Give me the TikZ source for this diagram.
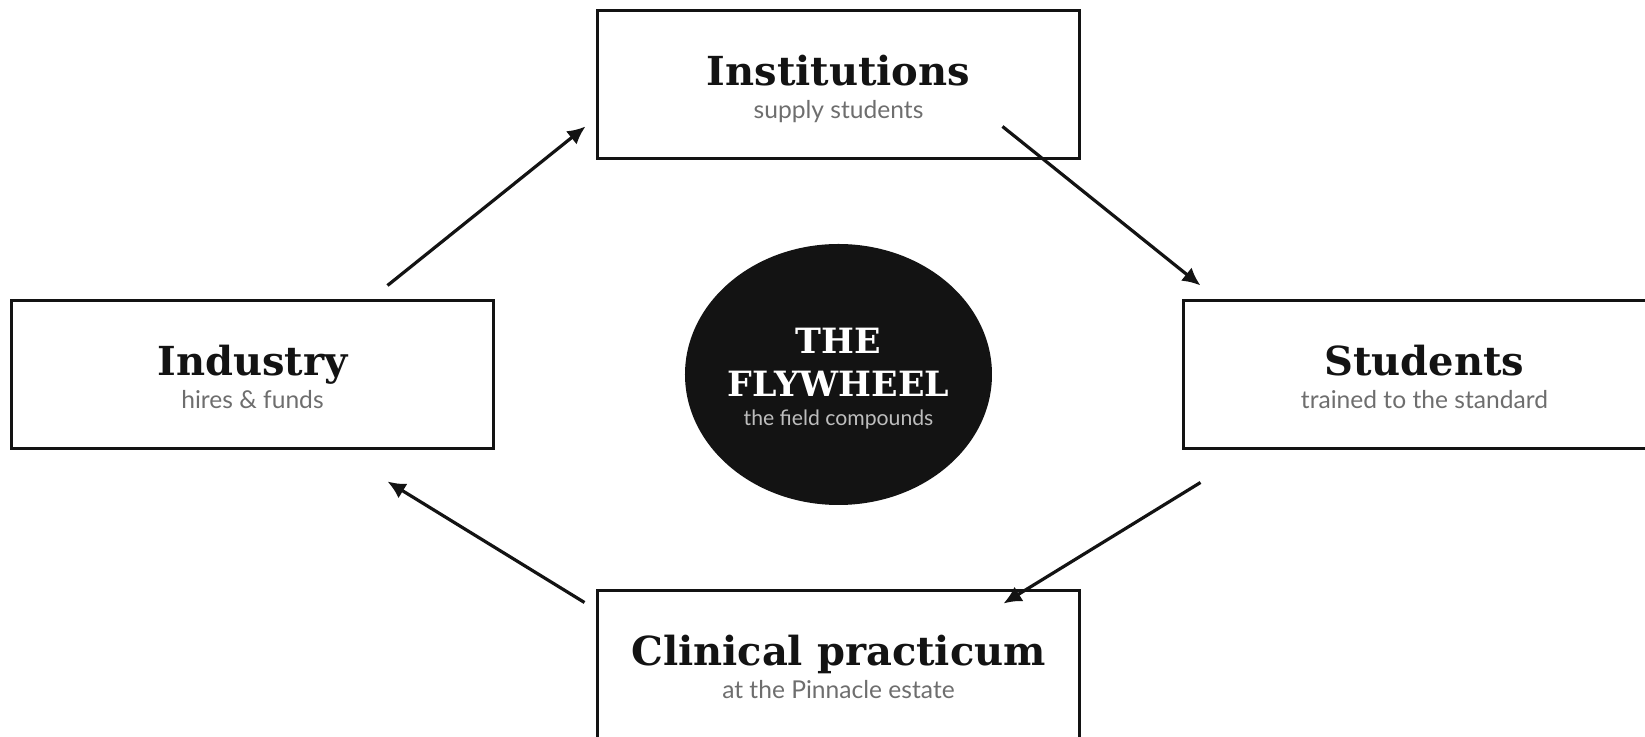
\documentclass[tikz,border=0pt]{standalone}
\usepackage{fontspec}
\setmainfont{DejaVu Serif}
\newfontfamily\latofont{Lato}
\usepackage{tikz}
\usetikzlibrary{positioning, arrows.meta, shapes.geometric}
\definecolor{ink}{HTML}{131313}
\definecolor{muted}{HTML}{6E6E6E}
\definecolor{pale}{HTML}{BDBDBD}
\tikzstyle{stage} = [rectangle, draw=ink, line width=1.5pt, minimum width=241pt, minimum height=74pt, inner sep=0pt]
\tikzstyle{hub} = [ellipse, fill=ink, minimum width=153.5pt, minimum height=130.5pt, inner sep=0pt]
\tikzstyle{ttl} = [anchor=base, inner sep=0pt, yshift=-0.5pt, text=ink, font=\bfseries\fontsize{20pt}{24pt}\selectfont]
\tikzstyle{sub} = [anchor=base, inner sep=0pt, yshift=-17.25pt, text=muted, font=\latofont\fontsize{12.3pt}{15pt}\selectfont]
\tikzstyle{arrow} = [line width=1.6pt, draw=ink, -{Latex[length=9pt,width=8.5pt]}]

\begin{document}
\begin{tikzpicture}[node distance=145pt and 293pt, on grid]
        \useasboundingbox (-419.25pt,-181.25pt) rectangle (403.25pt,187.25pt);

        \node (wheel) [hub] at (0,0) {};
        \node (wheelA) [anchor=base, inner sep=0pt, yshift=10.5pt, text=white, font=\bfseries\fontsize{17.4pt}{20pt}\selectfont] at (wheel.center) {THE};
        \node (wheelB) [anchor=base, inner sep=0pt, yshift=-11pt, text=white, font=\bfseries\fontsize{17.4pt}{20pt}\selectfont] at (wheel.center) {FLYWHEEL};
        \node (wheelC) [anchor=base, inner sep=0pt, yshift=-25.5pt, text=pale, font=\latofont\fontsize{10.6pt}{13pt}\selectfont] at (wheel.center) {the field compounds};

        \node (inst) [stage, above=of wheel] {};
        \node (instT) [ttl] at (inst.center) {Institutions};
        \node (instS) [sub] at (inst.center) {supply students};

        \node (stud) [stage, right=of wheel] {};
        \node (studT) [ttl] at (stud.center) {Students};
        \node (studS) [sub] at (stud.center) {trained to the standard};

        \node (clin) [stage, below=of wheel] {};
        \node (clinT) [ttl] at (clin.center) {Clinical practicum};
        \node (clinS) [sub] at (clin.center) {at the Pinnacle estate};

        \node (indus) [stage, left=of wheel] {};
        \node (indusT) [ttl] at (indus.center) {Industry};
        \node (indusS) [sub] at (indus.center) {hires \& funds};

        \draw [arrow] ([shift={(-53.75pt,6.75pt)}]indus.north east) -- ([shift={(-5.25pt,16.75pt)}]inst.south west);
        \draw [arrow] ([shift={(-39.25pt,16.75pt)}]inst.south east) -- ([shift={(9.25pt,6.75pt)}]stud.north west);
        \draw [arrow] ([shift={(9.25pt,-16.25pt)}]stud.south west) -- ([shift={(-38.75pt,-7.25pt)}]clin.north east);
        \draw [arrow] ([shift={(-5.75pt,-6.75pt)}]clin.north west) -- ([shift={(-53.75pt,-15.75pt)}]indus.south east);

\end{tikzpicture}
\end{document}
